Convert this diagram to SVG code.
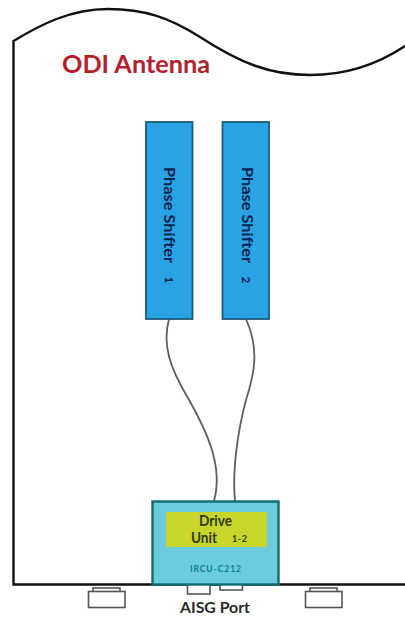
<svg xmlns="http://www.w3.org/2000/svg" width="405" height="617" viewBox="0 0 405 617">
<style>
text{font-family:"Lato","Open Sans","Liberation Sans",sans-serif;font-weight:700;stroke:none}
.body{fill:none;stroke:#111;stroke-width:2.4}
.ps rect{fill:#29a3e3;stroke:#1d5a78;stroke-width:1.8}
.ps text{fill:#08234d;font-size:16px;text-anchor:middle}
.ps text.n{font-size:11px;font-weight:900}
.cable{fill:none;stroke:#5e5e5e;stroke-width:1.8}
.port{fill:#fff;stroke:#555;stroke-width:1.6}
</style>
<rect width="405" height="617" fill="#fff"/>
<g id="antenna">
<path class="body" d="M405 46C375 66 345 75 310 75C270 75 240 63 200 37C170 18 145 9 108 9C70 9 40 25 13.500 41V584.500H405"/>
<text x="62" y="73" font-size="24" fill="#b5202c" textLength="148" lengthAdjust="spacingAndGlyphs">ODI Antenna</text>
</g>
<g id="connectors">
<path class="cable" d="M169 319C162 345 170 368 188 398C205 428 224 465 214 501"/>
<path class="cable" d="M246 319C260 350 254 375 246 400C238 430 232 470 235 501"/>
</g>
<g id="phase-shifter-1" class="ps">
<rect x="146" y="122" width="46.500" height="197"/>
<text transform="translate(164 215) rotate(90)" textLength="96" lengthAdjust="spacingAndGlyphs">Phase Shifter</text>
<text class="n" transform="translate(165 280) rotate(90)">1</text>
</g>
<g id="phase-shifter-2" class="ps">
<rect x="222.500" y="122" width="46.500" height="197"/>
<text transform="translate(242 215) rotate(90)" textLength="96" lengthAdjust="spacingAndGlyphs">Phase Shifter</text>
<text class="n" transform="translate(242 280) rotate(90)">2</text>
</g>
<g id="port-left">
<rect class="port" x="93" y="588" width="27" height="4"/>
<rect class="port" x="88.500" y="591.500" width="36.500" height="16"/>
</g>
<g id="port-right">
<rect class="port" x="310" y="588" width="27" height="4"/>
<rect class="port" x="305.500" y="591.500" width="36.500" height="16"/>
</g>
<g id="aisg-port">
<rect class="port" x="187.500" y="584" width="22.500" height="10"/>
<rect class="port" x="220" y="584" width="22.500" height="6"/>
<text x="215" y="613" font-size="16" fill="#2a2a2a" text-anchor="middle" textLength="70" lengthAdjust="spacingAndGlyphs">AISG Port</text>
</g>
<g id="drive-unit">
<rect x="152.500" y="501.500" width="126" height="83" fill="#6ccbdc" stroke="#0f6d70" stroke-width="2.400"/>
<rect x="166" y="512" width="101" height="35" fill="#c8d62b"/>
<text x="199" y="526" font-size="15.500" fill="#2e3a10" textLength="33" lengthAdjust="spacingAndGlyphs">Drive</text>
<text x="191" y="543" font-size="15.500" fill="#2e3a10" textLength="26" lengthAdjust="spacingAndGlyphs">Unit</text>
<text x="232" y="541.500" font-size="9" fill="#2e3a10" textLength="15" lengthAdjust="spacing">1-2</text>
<text x="190" y="572" font-size="8.500" fill="#0f7f9a" textLength="51" lengthAdjust="spacing">IRCU-C212</text>
</g>
</svg>
